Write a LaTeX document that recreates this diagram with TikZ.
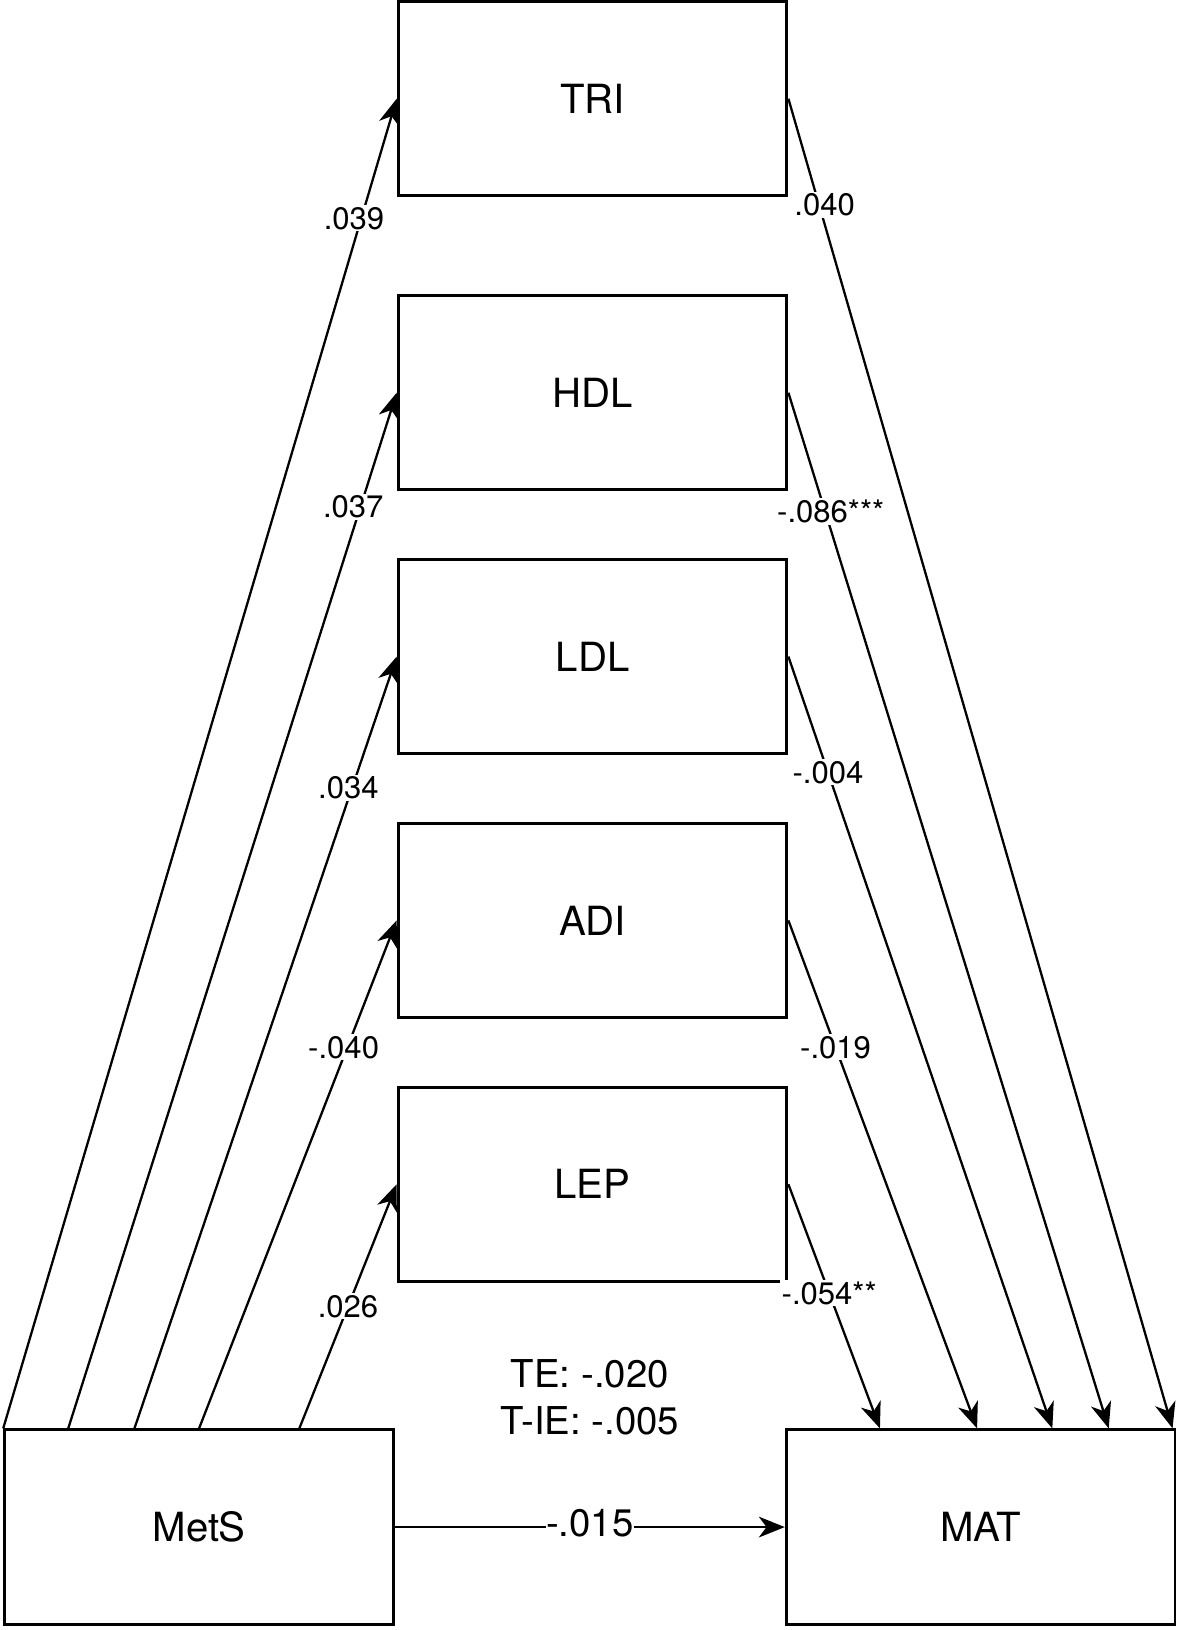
\documentclass[tikz,border=0pt]{standalone}
\usepackage{fontspec}
\setmainfont{TeX Gyre Heros}
\usetikzlibrary{shapes, arrows.meta, positioning, calc}

\begin{document}
\begin{tikzpicture}[
block/.style={rectangle, text centered, draw=black, line width=1.6pt,
    minimum width=7.48cm, minimum height=3.74cm, font=\fontsize{22}{26}\selectfont},
block-med/.style={block, node distance=1.28cm},
line/.style={draw, line width=1.25pt, -{Stealth[length=5mm, width=4mm, inset=1.5mm]}},
coef/.style={fill=white, inner sep=1pt, font=\fontsize{17}{20}\selectfont},
coef-big/.style={coef, inner sep=0pt, font=\fontsize{21}{25}\selectfont},
total/.style={align=center, font=\fontsize{21}{25.5}\selectfont}
]
\useasboundingbox (0,0) rectangle (22.7,31.36);

\node [block] (tri) at (11.40,29.46) {TRI};
\node [block-med, below=1.86cm of tri] (hdl) {HDL};
\node [block-med, below=of hdl] (ldl) {LDL};
\node [block-med, below=of ldl] (adi) {ADI};
\node [block-med, below=of adi] (lep) {LEP};

\node [block] (mets) at (3.83,1.98) {MetS};
\node [block, right=7.5cm of mets] (mat) {MAT};

\node [total] (te) at ($(mets)!0.5!(mat)+(0,2.5)$) {TE: -.020\\T-IE: -.005};

\draw [line] (mets.north west) -- node [coef, pos=0.91, xshift=-4pt] {.039} (tri.west);
\draw [line] ($(mets.north west)!0.166!(mets.north east)$) -- node [coef, pos=0.89, xshift=-4pt] {.037} (hdl.west);
\draw [line] ($(mets.north west)!0.335!(mets.north east)$) -- node [coef, pos=0.83, xshift=-2pt] {.034} (ldl.west);
\draw [line] ($(mets.north west)!0.5!(mets.north east)$) -- node [coef, pos=0.75, xshift=-2pt] {-.040} (adi.west);
\draw [line] ($(mets.north west)!0.756!(mets.north east)$) -- node [coef, pos=0.5] {.026} (lep.west);

\draw [line] (tri.east) -- node [coef, pos=0.08, xshift=3pt] {.040} ($(mat.north west)!0.99!(mat.north east)$);
\draw [line] (hdl.east) -- node [coef, pos=0.115, xshift=3pt] {-.086***} ($(mat.north west)!0.827!(mat.north east)$);
\draw [line] (ldl.east) -- node [coef, pos=0.15] {-.004} ($(mat.north west)!0.683!(mat.north east)$);
\draw [line] (adi.east) -- node [coef, pos=0.25] {-.019} ($(mat.north west)!0.491!(mat.north east)$);
\draw [line] (lep.east) -- node [coef, pos=0.445] {-.054**} ($(mat.north west)!0.243!(mat.north east)$);

\draw [line] (mets.east) -- node [coef-big, yshift=2pt] {-.015} (mat.west);
\end{tikzpicture}
\end{document}
